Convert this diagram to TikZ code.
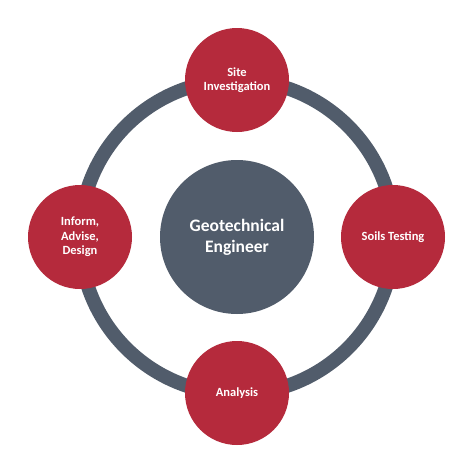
\documentclass[tikz,border=0pt]{standalone}
\usepackage{fontspec}
\setmainfont{Carlito}
\definecolor{ringgray}{HTML}{515C6B}
\definecolor{nodered}{HTML}{B52A3C}
\tikzset{
  hub/.style={circle, fill=ringgray, minimum size=154pt, inner sep=0pt, text=white,
    align=center, font=\bfseries\fontsize{17.5}{21}\selectfont},
  stage/.style={circle, fill=nodered, minimum size=104pt, inner sep=0pt, text=white,
    align=center, font=\bfseries\fontsize{12.5}{14.5}\selectfont},
  ring/.style={draw=ringgray, line width=14pt}
}
\begin{document}
\begin{tikzpicture}[x=1pt,y=-1pt]
\useasboundingbox (0,0) rectangle (474,474);
\fill[white] (0,0) rectangle (474,474);
\coordinate (c) at (237,237);
\draw[ring] (c) circle (157pt);
\node[hub] (hub) at (c) {Geotechnical\\Engineer};
\node[stage] (site) at (237,80) {Site\\Investigation};
\node[stage] (soils) at (393,237) {Soils Testing};
\node[stage] (analysis) at (237,393) {Analysis};
\node[stage] (inform) at (80,237) {Inform,\\Advise,\\Design};
\end{tikzpicture}
\end{document}
